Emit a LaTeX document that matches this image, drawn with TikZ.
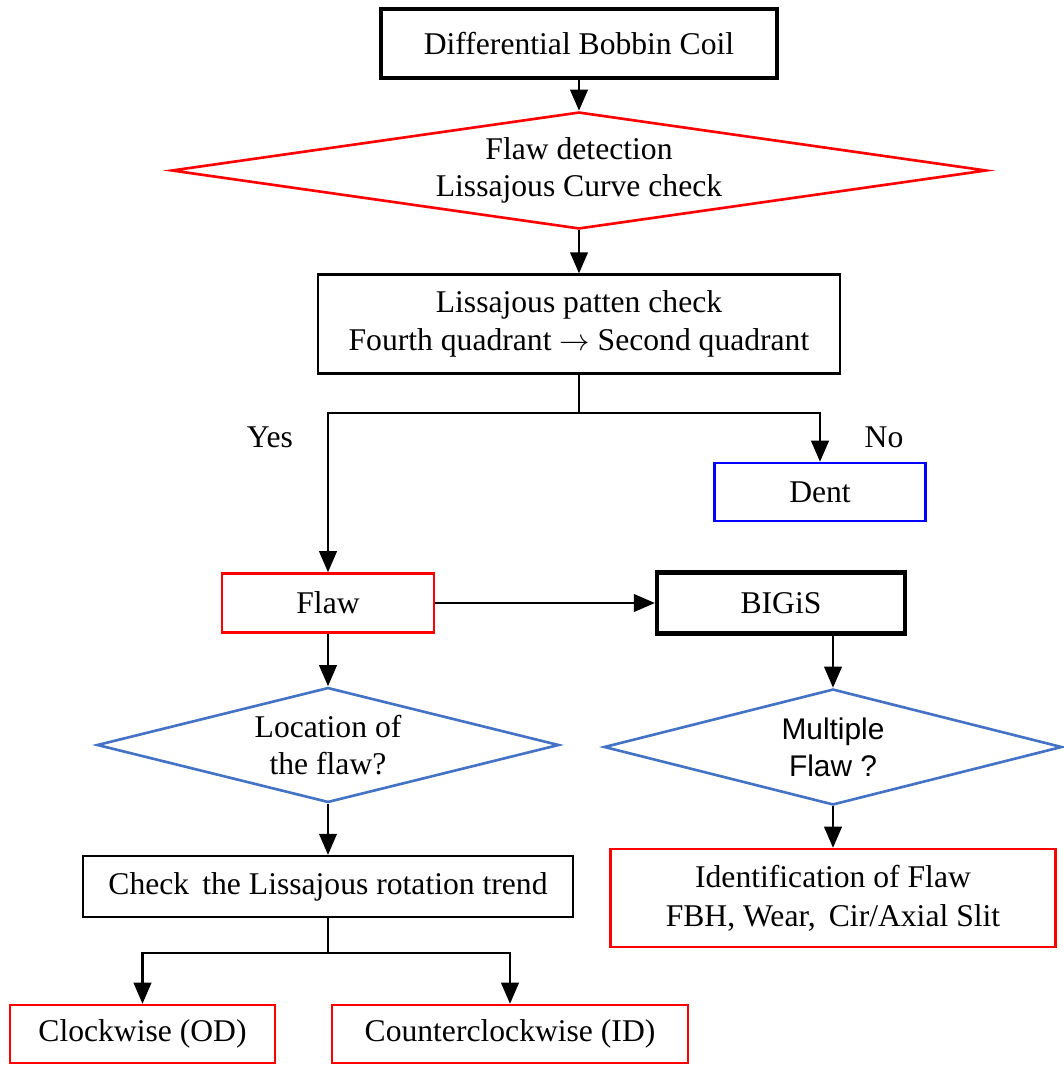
\documentclass[tikz,border=0pt]{standalone}
\usepackage{fontspec}
\setmainfont{Liberation Serif}
\newfontfamily\arialf{Liberation Sans}
\usetikzlibrary{shapes.geometric,arrows.meta,calc}
\definecolor{offblue}{RGB}{68,114,196}
\tikzset{
  base/.style={rectangle,inner sep=0pt,align=center,font=\fontsize{18}{22}\selectfont},
  thickbox/.style={base,draw=black,line width=2.4pt},
  plainbox/.style={base,draw=black,line width=1.3pt},
  redbox/.style={base,draw=red,line width=1.4pt},
  bluebox/.style={base,draw=blue,line width=1.4pt},
  dia/.style={diamond,inner sep=0pt,align=center,font=\fontsize{18}{21}\selectfont,line width=1.5pt},
  arr/.style={line width=1.3pt,-{Triangle[length=12pt,width=10pt]}},
  ln/.style={line width=1.3pt},
  lbl/.style={font=\fontsize{18}{22}\selectfont,inner sep=0pt}
}
\begin{document}
\begin{tikzpicture}[x=0.02cm,y=-0.02cm]
\useasboundingbox (0,0) rectangle (1063,1067);
\node[thickbox,minimum width=7.92cm,minimum height=1.38cm] (dbc) at (579,43.5) {Differential Bobbin Coil};
\node[dia,draw=red,minimum width=16.3cm,minimum height=2.34cm,aspect=7] (fd) at (579,170.5) {Flaw detection\\Lissajous Curve check};
\node[plainbox,minimum width=10.44cm,minimum height=1.98cm] (lpc) at (579,324) {Lissajous patten check\\Fourth quadrant \(\rightarrow\) Second quadrant};
\node[bluebox,minimum width=4.22cm,minimum height=1.16cm] (dent) at (820,492) {Dent};
\node[redbox,minimum width=4.24cm,minimum height=1.18cm] (flaw) at (328,603) {Flaw};
\node[thickbox,minimum width=4.96cm,minimum height=1.22cm] (bigis) at (781,603) {BIGiS};
\node[dia,draw=offblue,minimum width=9.24cm,minimum height=2.3cm,aspect=4] (loc) at (328,745) {Location of\\the flaw?};
\node[dia,draw=offblue,minimum width=9.16cm,minimum height=2.32cm,aspect=4,font=\arialf\fontsize{17}{21}\selectfont] (mult) at (833,747) {Multiple\\Flaw ?};
\node[plainbox,minimum width=9.8cm,minimum height=1.22cm] (chk) at (328,886.5) {Check\, the Lissajous rotation trend};
\node[redbox,minimum width=8.9cm,minimum height=1.96cm] (ident) at (833,898) {Identification of Flaw\\FBH, Wear,\, Cir/Axial Slit};
\node[redbox,minimum width=5.3cm,minimum height=1.16cm] (cw) at (142.5,1034) {Clockwise (OD)};
\node[redbox,minimum width=7.12cm,minimum height=1.16cm] (ccw) at (510,1034) {Counterclockwise (ID)};
\node[lbl] (yes) at (270,437) {Yes};
\node[lbl] (no) at (884,437) {No};
\coordinate (j1) at (579,413);
\coordinate (j2) at (328,953);
% connectors
\draw[arr] (dbc.south) -- (fd.north);
\draw[arr] (fd.south) -- (lpc.north);
\draw[ln] (lpc.south) -- (j1);
\draw[arr] (j1) -| (flaw.north);
\draw[arr] (j1) -| (dent.north);
\draw[arr] (flaw.east) -- (bigis.west);
\draw[arr] (flaw.south) -- (loc.north);
\draw[arr] (bigis.south -| mult.north) -- (mult.north);
\draw[arr] (loc.south) -- (chk.north);
\draw[arr] (mult.south) -- (ident.north);
\draw[ln] (chk.south) -- (j2);
\draw[arr] (j2) -| (cw.north);
\draw[arr] (j2) -| (ccw.north);
\end{tikzpicture}
\end{document}
